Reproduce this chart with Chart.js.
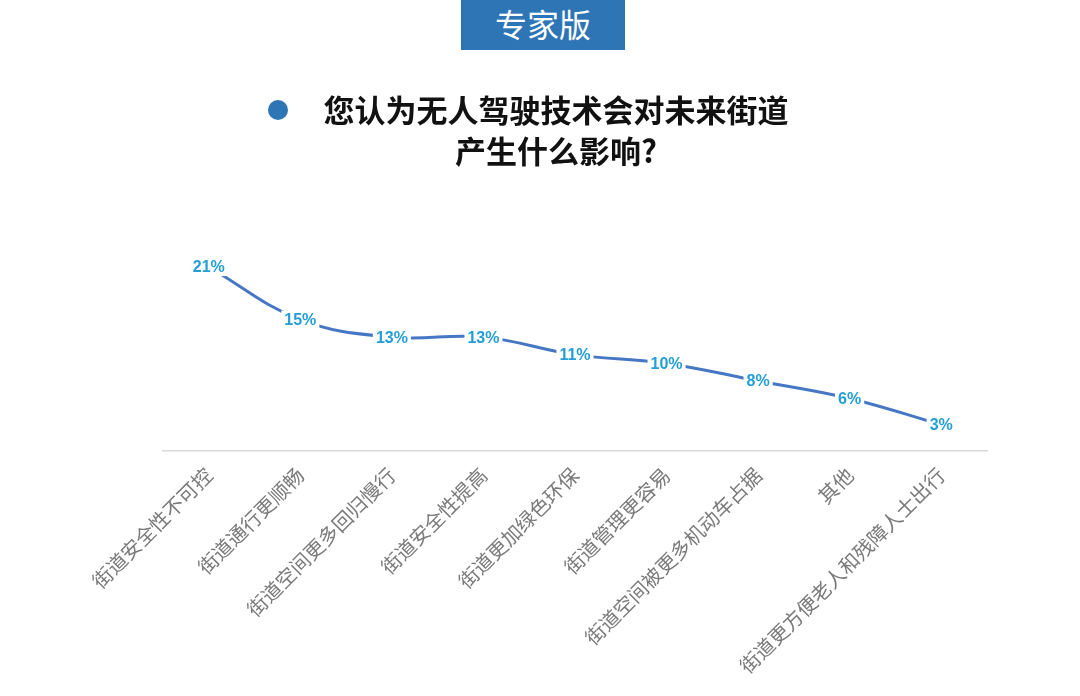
<!DOCTYPE html>
<html>
<head>
<meta charset="utf-8">
<script src="https://cdn.jsdelivr.net/npm/chart.js@4/dist/chart.umd.min.js"></script>
<style>
  html, body { margin: 0; padding: 0; background: #fff; }
  #wrap { position: relative; width: 1080px; height: 696px; overflow: hidden; }
  #badge {
    position: absolute; left: 461px; top: 0; width: 164px; height: 50px;
    background: #2e75b6; color: #fff; text-align: center; line-height: 50px;
    font: 400 32px "Noto Sans CJK SC", sans-serif;
  }
  #dot {
    position: absolute; left: 268px; top: 100px; width: 20px; height: 20px;
    border-radius: 50%; background: #2e75b6;
  }
  #title {
    position: absolute; left: 256px; top: 88px; width: 600px; text-align: center;
    font: bold 31px "Noto Sans CJK SC", sans-serif; line-height: 41px; color: #111;
  }
  canvas { position: absolute; left: 0; top: 0; }
</style>
</head>
<body>
<div id="wrap">
  <canvas id="myChart" width="1080" height="696"></canvas>
  <div id="badge">专家版</div>
  <div id="dot"></div>
  <div id="title">您认为无人驾驶技术会对未来街道<br>产生什么影响?</div>
</div>
<script>
const categories = [
  '街道安全性不可控',
  '街道通行更顺畅',
  '街道空间更多回归慢行',
  '街道安全性提高',
  '街道更加绿色环保',
  '街道管理更容易',
  '街道空间被更多机动车占据',
  '其他',
  '街道更方便老人和残障人士出行'
]
const shares = [21, 15, 13, 13, 11, 10, 8, 6, 3]

// labels with a white box so the line breaks around them
const pointLabels = {
  id: 'pointLabels',
  afterDatasetsDraw(chart) {
    const ctx = chart.ctx
    const meta = chart.getDatasetMeta(0)
    ctx.save()
    ctx.font = 'bold 16px "Liberation Sans", sans-serif'
    ctx.textAlign = 'center'
    ctx.textBaseline = 'middle'
    meta.data.forEach((pt, i) => {
      const txt = shares[i] + '%'
      const w = ctx.measureText(txt).width
      ctx.fillStyle = '#fff'
      ctx.fillRect(pt.x - w / 2 - 3, pt.y - 9, w + 6, 18)
      ctx.fillStyle = '#249ed6'
      ctx.fillText(txt, pt.x, pt.y + 1)
    })
    ctx.restore()
  }
}

const ctx = document.getElementById('myChart')
// eslint-disable-next-line no-unused-vars
const myChart = new Chart(ctx, {
  type: 'line',
  data: {
    labels: categories,
    datasets: [{
      data: shares,
      borderColor: '#4677c4',
      borderWidth: 3,
      tension: 0.4,
      pointRadius: 0,
      fill: false
    }]
  },
  options: {
    responsive: false,
    animation: false,
    layout: { padding: { left: 163, right: 93, top: 232, bottom: 0 } },
    plugins: {
      legend: { display: false },
      tooltip: { enabled: false }
    },
    scales: {
      x: {
        offset: true,
        grid: { display: false, drawTicks: false },
        border: { display: true, color: '#d9d9d9', width: 1.5 },
        ticks: {
          autoSkip: false,
          maxRotation: 45,
          minRotation: 45,
          padding: 12,
          color: '#7a7a7a',
          font: { family: '"Noto Sans CJK SC", sans-serif', size: 20 }
        },
        afterFit(scale) { scale.height = 245 }
      },
      y: {
        display: false,
        min: 0,
        max: 25
      }
    }
  },
  plugins: [pointLabels]
})
</script>
</body>
</html>
